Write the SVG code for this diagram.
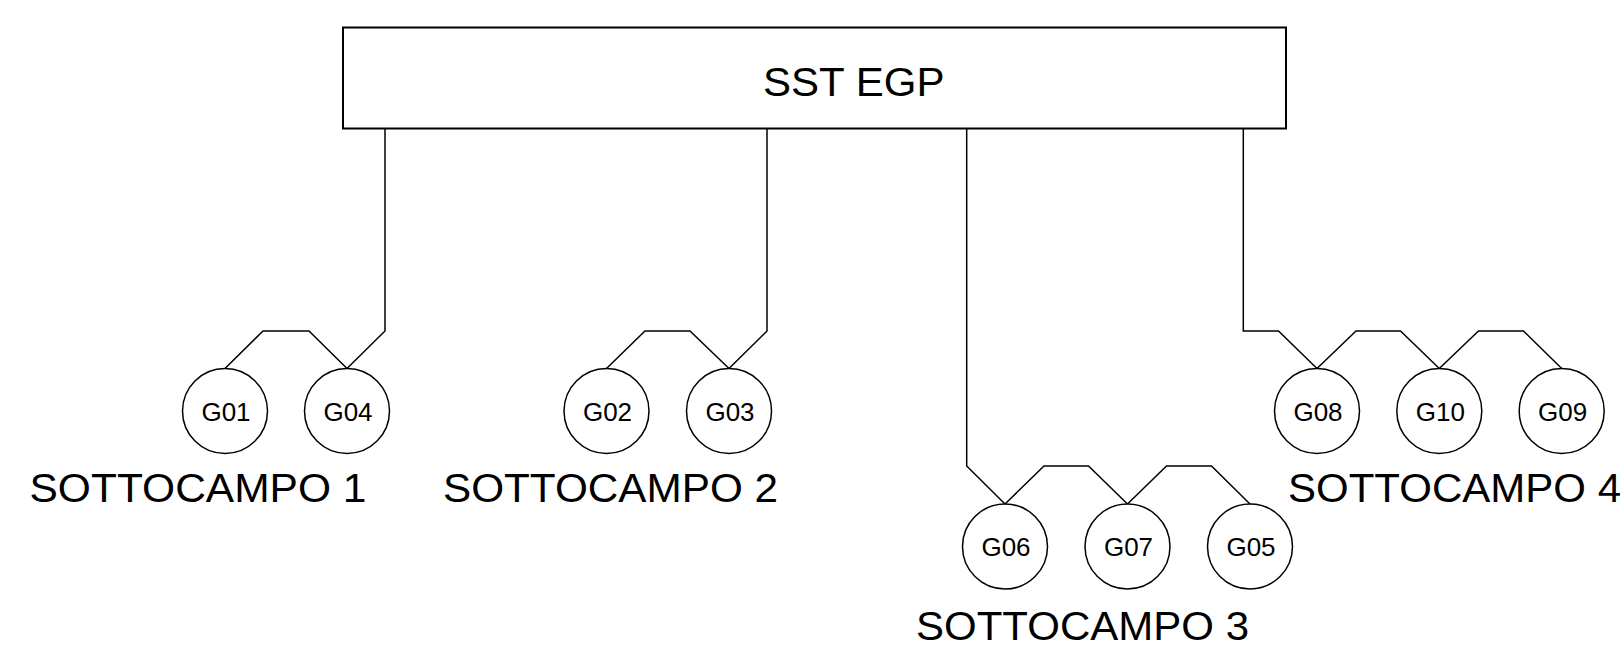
<svg xmlns="http://www.w3.org/2000/svg" width="1621" height="652" viewBox="0 0 1621 652">
<style>
.n{fill:#fff;stroke:#000;stroke-width:1.5}
.g{font-family:"Liberation Sans",Arial,sans-serif;font-size:26px;fill:#000;text-anchor:middle}
.lbl{font-family:"Liberation Sans",Arial,sans-serif;font-size:40px;fill:#000}
.c{fill:none;stroke:#000;stroke-width:1.5}
</style>
<rect width="1621" height="652" fill="#fff"/>
<g id="connectors">
<polyline class="c" points="225,368.5 263,331 309,331 347,368.5 385,331 385,128.5"/>
<polyline class="c" points="606.5,368.5 645,331 690,331 729,368.5 767,331 767,128.5"/>
<polyline class="c" points="966.7,128.5 966.7,466 1005,504 1044,466 1088.5,466 1127.5,504 1166.5,466 1211.5,466 1250,504"/>
<polyline class="c" points="1243.3,128.5 1243.3,331 1278.5,331 1317,368.5 1356,331 1400.5,331 1439.3,368.5 1478.5,331 1523.5,331 1561.7,368.5"/>
</g>
<g id="sst">
<rect x="343" y="27.5" width="943" height="101" fill="#fff" stroke="#000" stroke-width="2"/>
<text class="lbl" x="763" y="96" textLength="181.5" lengthAdjust="spacingAndGlyphs">SST EGP</text>
</g>
<g id="G01"><circle class="n" cx="225" cy="411" r="42.5"/><text class="g" x="226" y="420.5">G01</text></g>
<g id="G04"><circle class="n" cx="347" cy="411" r="42.5"/><text class="g" x="348" y="420.5">G04</text></g>
<g id="G02"><circle class="n" cx="606.5" cy="411" r="42.5"/><text class="g" x="607.5" y="420.5">G02</text></g>
<g id="G03"><circle class="n" cx="729" cy="411" r="42.5"/><text class="g" x="730" y="420.5">G03</text></g>
<g id="G06"><circle class="n" cx="1005" cy="546.5" r="42.5"/><text class="g" x="1006" y="556">G06</text></g>
<g id="G07"><circle class="n" cx="1127.5" cy="546.5" r="42.5"/><text class="g" x="1128.5" y="556">G07</text></g>
<g id="G05"><circle class="n" cx="1250" cy="546.5" r="42.5"/><text class="g" x="1251" y="556">G05</text></g>
<g id="G08"><circle class="n" cx="1317" cy="411" r="42.5"/><text class="g" x="1318" y="420.5">G08</text></g>
<g id="G10"><circle class="n" cx="1439.3" cy="411" r="42.5"/><text class="g" x="1440.3" y="420.5">G10</text></g>
<g id="G09"><circle class="n" cx="1561.7" cy="411" r="42.5"/><text class="g" x="1562.7" y="420.5">G09</text></g>
<g id="labels">
<text class="lbl" x="29.5" y="501.5" textLength="337" lengthAdjust="spacingAndGlyphs">SOTTOCAMPO 1</text>
<text class="lbl" x="443" y="501.5" textLength="335" lengthAdjust="spacingAndGlyphs">SOTTOCAMPO 2</text>
<text class="lbl" x="916" y="640" textLength="333" lengthAdjust="spacingAndGlyphs">SOTTOCAMPO 3</text>
<text class="lbl" x="1288" y="501.5" textLength="333" lengthAdjust="spacingAndGlyphs">SOTTOCAMPO 4</text>
</g>
</svg>
